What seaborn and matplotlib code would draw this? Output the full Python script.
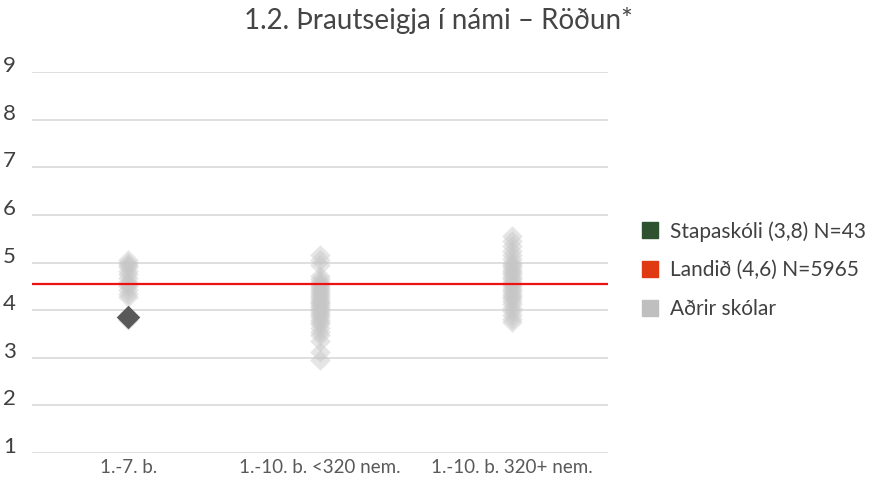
import matplotlib
matplotlib.use('Agg')
import matplotlib.pyplot as plt
from matplotlib.lines import Line2D
import numpy as np
import pandas as pd
import seaborn as sns

# gögn lesin af myndinni
flokkar = ['1.-7. b.', '1.-10. b. <320 nem.', '1.-10. b. 320+ nem.']

adrir_1_7 = [5.05, 5.0, 4.95, 4.9, 4.82, 4.75, 4.68, 4.6, 4.55, 4.5, 4.42, 4.35, 4.28, 3.8]
adrir_litlir = [5.15, 5.05, 4.95, 4.72, 4.65, 4.6, 4.55, 4.5, 4.47, 4.42, 4.38, 4.35, 4.3,
                4.26, 4.22, 4.18, 4.15, 4.1, 4.06, 4.02, 3.98, 3.95, 3.9, 3.85, 3.8,
                3.75, 3.7, 3.62, 3.55, 3.48, 3.35, 3.12, 2.95]
adrir_storir = [5.55, 5.45, 5.35, 5.25, 5.15, 5.08, 5.0, 4.95, 4.9, 4.85, 4.8, 4.75, 4.7,
                4.65, 4.6, 4.55, 4.5, 4.45, 4.4, 4.35, 4.3, 4.25, 4.2, 4.12, 4.05,
                3.98, 3.9, 3.82, 3.75]

skoli_flokkur = '1.-7. b.'
skoli_gildi = 3.85
landid = 4.55

legend_texti = ['Stapaskóli (3,8) N=43', 'Landið (4,6) N=5965', 'Aðrir skólar']
legend_litir = ['#2e5230', '#df3a12', '#bfbfbf']

df = pd.concat([
    pd.DataFrame({'flokkur': flokkar[0], 'gildi': adrir_1_7}),
    pd.DataFrame({'flokkur': flokkar[1], 'gildi': adrir_litlir}),
    pd.DataFrame({'flokkur': flokkar[2], 'gildi': adrir_storir}),
], ignore_index=True)
df_skoli = pd.DataFrame({'flokkur': [skoli_flokkur], 'gildi': [skoli_gildi]})

sns.set_style('white')
plt.rcParams['font.family'] = ['Lato', 'DejaVu Sans']

fig = plt.figure(figsize=(8.77, 4.80), dpi=100)
ax = fig.add_axes([0.037, 0.056, 0.656, 0.794])

sns.stripplot(data=df, x='flokkur', y='gildi', order=flokkar, jitter=False,
              marker='D', color='#c6c6c6', alpha=0.45, size=10.5, linewidth=0, ax=ax)
sns.stripplot(data=df_skoli, x='flokkur', y='gildi', order=flokkar, jitter=False,
              marker='D', color='#595959', size=12, linewidth=0, ax=ax, zorder=5)
ax.axhline(landid, color='#ee1111', lw=1.6, zorder=4)

ax.set_ylim(1, 9)
ax.set_xlim(-0.5, 2.5)
ax.set_yticks(range(1, 10))
ax.yaxis.grid(True, color='#d9d9d9', lw=1.2)
ax.set_axisbelow(True)
for s in ax.spines.values():
    s.set_visible(False)
ax.set_xlabel('')
ax.set_ylabel('')
ax.tick_params(axis='y', length=0, labelsize=16, labelcolor='#404040', pad=12)
ax.tick_params(axis='x', length=0, labelsize=13.5, labelcolor='#595959', pad=4)
for t in ax.get_yticklabels():
    t.set_verticalalignment('baseline')

fig.suptitle('1.2. Þrautseigja í námi – Röðun*', x=0.5, y=0.985, fontsize=20,
             color='#454545')

handles = [Line2D([], [], marker='s', ls='', color=c, markersize=11) for c in legend_litir]
fig.legend(handles, legend_texti, loc='center left', bbox_to_anchor=(0.72, 0.4375),
           frameon=False, fontsize=15, labelcolor='#404040', handletextpad=0.45,
           labelspacing=0.9, handlelength=1.0, borderaxespad=0)

fig.savefig('out.png', dpi=100)
